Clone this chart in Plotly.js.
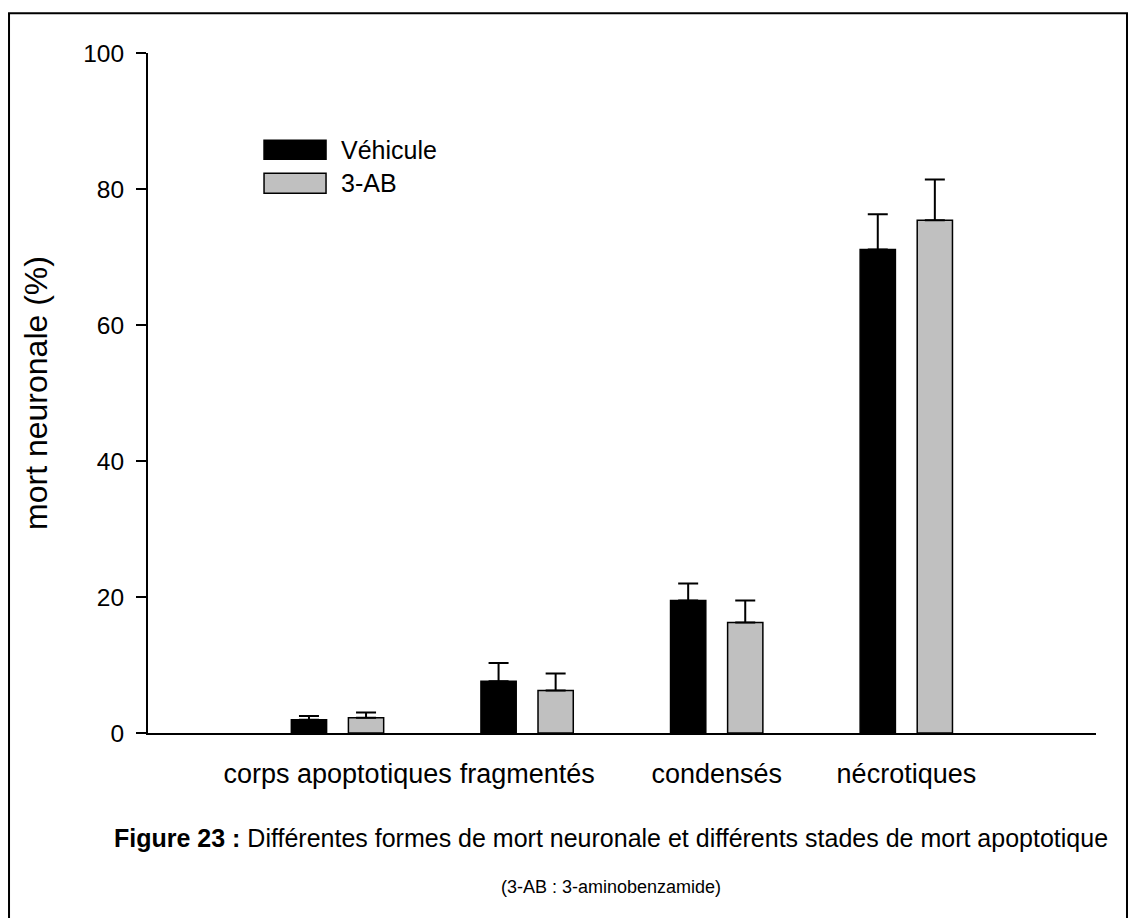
<!DOCTYPE html>
<html>
<head>
<meta charset="utf-8">
<script src="https://cdn.plot.ly/plotly-3.0.1.min.js"></script>
<style>html,body{margin:0;padding:0;background:#fff;}#chart{width:1135px;height:918px;}</style>
</head>
<body>
<div id="chart"></div>
<script>
const categories = ["corps apoptotiques", "fragmentés", "condensés", "nécrotiques"];
const seriesNames = ["Véhicule", "3-AB"];
const vehiculeValues = [1.95, 7.6, 19.5, 71.1];
const vehiculeErrors = [0.55, 2.7, 2.5, 5.2];
const abValues = [2.25, 6.25, 16.25, 75.4];
const abErrors = [0.75, 2.5, 3.25, 6.0];
const yTicks = [0, 20, 40, 60, 80, 100];
const captionBold = "Figure 23 :";
const captionText = " Différentes formes de mort neuronale et différents stades de mort apoptotique";
const subCaption = "(3-AB : 3-aminobenzamide)";
const yTitle = "mort neuronale (%)";

const xIdx = categories.map((c, i) => i);
const narrow = "'Liberation Sans Narrow', 'Arial Narrow', 'Liberation Sans', Arial, sans-serif";
const sans = "'Liberation Sans', Arial, sans-serif";

function barTrace(name, vals, errs, color, offset) {
  return {
    type: "bar", name: name, x: xIdx, y: vals,
    width: 0.186, offset: offset,
    marker: {color: color, line: {color: "#000", width: 1.5}},
    error_y: {type: "data", array: errs, symmetric: false, arrayminus: errs.map(() => 0),
              color: "#000", thickness: 2, width: 10},
    showlegend: false, hoverinfo: "skip"
  };
}

const data = [
  barTrace(seriesNames[0], vehiculeValues, vehiculeErrors, "#000000", -0.244),
  barTrace(seriesNames[1], abValues, abErrors, "#c0c0c0", 0.057)
];

const legendColors = ["#000000", "#c0c0c0"];
const legendY = [[0.8438, 0.8717], [0.7939, 0.8233]];
const shapes = [];
const annotations = [];
seriesNames.forEach((n, i) => {
  shapes.push({type: "rect", xref: "paper", yref: "paper", x0: 0.1224, x1: 0.1878,
    y0: legendY[i][0], y1: legendY[i][1], fillcolor: legendColors[i], line: {color: "#000", width: 1.5}});
  annotations.push({xref: "paper", yref: "paper", x: 0.2015, y: (legendY[i][0] + legendY[i][1]) / 2,
    xanchor: "left", yanchor: "middle", text: n, showarrow: false, font: {family: sans, size: 25, color: "#000"}});
});
// figure frame (left, top, right)
shapes.push({type: "path", xref: "paper", yref: "paper",
  path: "M -0.1466,-0.3 L -0.1466,1.0583 L 1.0327,1.0583 L 1.0327,-0.3", line: {color: "#000", width: 2}});

annotations.push({xref: "paper", yref: "paper", x: 0.488, y: -0.1538, xanchor: "center", yanchor: "middle",
  text: "<b>" + captionBold + "</b>" + captionText, showarrow: false, font: {family: narrow, size: 25, color: "#000"}});
annotations.push({xref: "paper", yref: "paper", x: 0.488, y: -0.2258, xanchor: "center", yanchor: "middle",
  text: subCaption, showarrow: false, font: {family: narrow, size: 18, color: "#000"}});

const layout = {
  width: 1135, height: 918,
  margin: {l: 148, r: 39, t: 52.7, b: 184.7},
  paper_bgcolor: "#fff", plot_bgcolor: "#fff",
  showlegend: false,
  barmode: "overlay",
  xaxis: {range: [-1, 4], tickvals: xIdx, ticktext: categories, showgrid: false, zeroline: false,
    showline: true, linecolor: "#000", linewidth: 2, ticks: "", ticklabelstandoff: 16,
    tickfont: {family: narrow, size: 27, color: "#000"}, fixedrange: true},
  yaxis: {range: [0, 100], tickvals: yTicks, showgrid: false, zeroline: false, showline: true,
    linecolor: "#000", linewidth: 2, ticks: "outside", ticklen: 10, tickwidth: 2, tickcolor: "#000",
    ticklabelstandoff: 7,
    tickfont: {family: sans, size: 24.5, color: "#000"},
    title: {text: yTitle, font: {family: sans, size: 32, color: "#000"}, standoff: 26}, fixedrange: true},
  shapes: shapes,
  annotations: annotations
};

Plotly.newPlot("chart", data, layout, {displayModeBar: false, staticPlot: true});
</script>
</body>
</html>
